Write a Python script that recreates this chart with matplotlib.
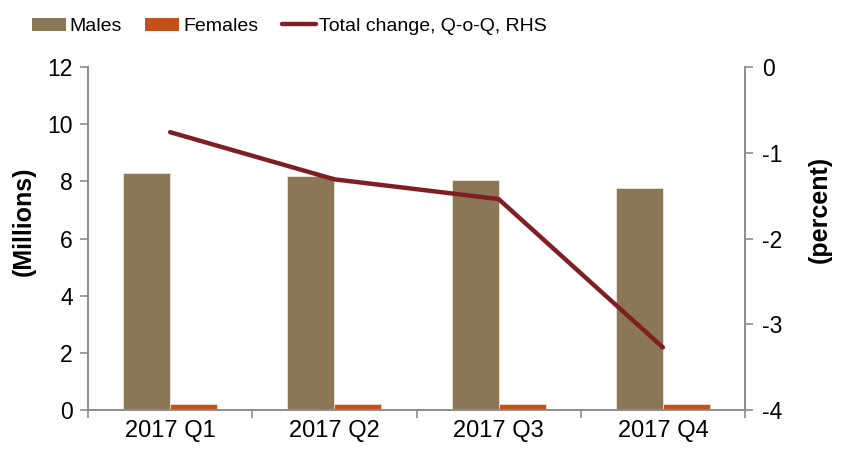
import numpy as np
import matplotlib.pyplot as plt
from matplotlib.patches import Patch
from matplotlib.lines import Line2D

quarters = ["2017 Q1", "2017 Q2", "2017 Q3", "2017 Q4"]
males = [8.28, 8.17, 8.05, 7.77]
females = [0.2, 0.2, 0.2, 0.2]
total_change = [-0.76, -1.31, -1.54, -3.27]

male_color = "#8b7756"
female_color = "#c4511a"
line_color = "#7f1f24"
axis_color = "#8c8c8c"

plt.rcParams['font.family'] = ['Liberation Sans', 'DejaVu Sans']
plt.rcParams['axes.unicode_minus'] = False

fig = plt.figure(figsize=(8.42, 4.55), dpi=100)
ax = fig.add_axes([88 / 842, 1 - 410 / 455, (745 - 88) / 842, (410 - 67) / 455])

x = np.arange(len(quarters))
w = 0.286
ax.bar(x - w / 2, males, width=w, color=male_color, edgecolor="#ece6da", linewidth=0.6)
ax.bar(x + w / 2, females, width=w, color=female_color, edgecolor="#f3dccf", linewidth=0.6)

ax.set_xlim(-0.5, len(quarters) - 0.5)
ax.set_ylim(0, 12)
ax.set_yticks(range(0, 13, 2))
ax.set_xticks(x)
ax.set_xticklabels(quarters)
ax.set_xticks(np.arange(-0.5, len(quarters)), minor=True)
ax.tick_params(axis='x', which='major', length=0, labelsize=17, pad=7)
ax.tick_params(axis='x', which='minor', length=6, color=axis_color, width=1.2)
ax.tick_params(axis='y', length=6, color=axis_color, width=1.2, labelsize=16.5, pad=5)
ax.set_ylabel("(Millions)", fontsize=18, fontweight='bold')
ax.yaxis.set_label_coords(-0.079, 0.551)

ax2 = ax.twinx()
ax2.plot(x, total_change, color=line_color, linewidth=3.2, solid_capstyle='round')
ax2.set_ylim(-4, 0)
ax2.set_yticks(range(-4, 1))
ax2.tick_params(axis='y', length=6, color=axis_color, width=1.2, labelsize=16.5, pad=6)
ax2.set_ylabel("(percent)", fontsize=18, fontweight='bold')
ax2.yaxis.set_label_coords(1.096, 0.586)

for a in (ax, ax2):
    a.spines['top'].set_visible(False)
    for s in ('left', 'right', 'bottom'):
        a.spines[s].set_color(axis_color)
        a.spines[s].set_linewidth(1.2)

handles = [Patch(facecolor=male_color), Patch(facecolor=female_color),
           Line2D([0], [0], color=line_color, linewidth=3.2, solid_capstyle='round')]
fig.legend(handles, ["Males", "Females", "Total change, Q-o-Q, RHS"],
           loc='center left', bbox_to_anchor=(14 / 842, 0.942), ncol=3, frameon=False,
           fontsize=14, handlelength=1.75, handletextpad=0.2, columnspacing=1.2)

fig.savefig("out.png", dpi=100)
